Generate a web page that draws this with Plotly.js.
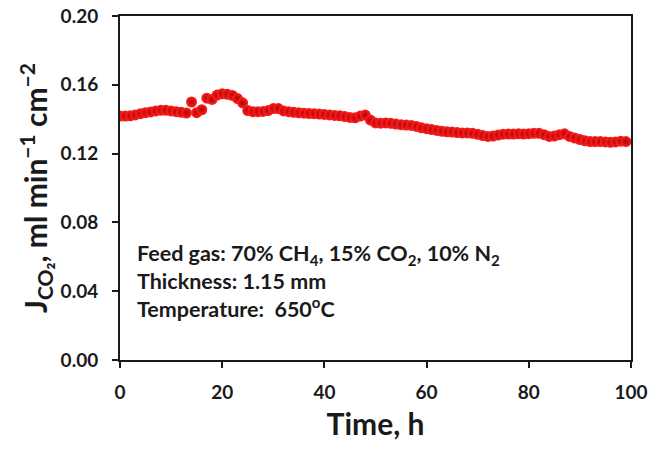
<!DOCTYPE html>
<html>
<head>
<meta charset="utf-8">
<script src="https://cdn.plot.ly/plotly-3.0.1.min.js"></script>
<style>html,body{margin:0;padding:0;background:#fff;}</style>
</head>
<body>
<div id="chart" style="width:653px;height:451px;"></div>
<script>
// Time on stream, h
const timeH = [0,1,2,3,4,5,6,7,8,9,10,11,12,13,14,15,16,17,18,19,20,21,22,23,24,25,26,27,28,29,30,31,32,33,34,35,36,37,38,39,40,41,42,43,44,45,46,47,48,49,50,51,52,53,54,55,56,57,58,59,60,61,62,63,64,65,66,67,68,69,70,71,72,73,74,75,76,77,78,79,80,81,82,83,84,85,86,87,88,89,90,91,92,93,94,95,96,97,98,99];
// CO2 flux, ml min^-1 cm^-2
const fluxCO2 = [0.1418,0.1418,0.1420,0.1425,0.1432,0.1438,0.1442,0.1448,0.1452,0.1452,
  0.1448,0.1444,0.1440,0.1436,0.1500,0.1438,0.1455,0.1522,0.1515,0.1540,
  0.1548,0.1545,0.1538,0.1520,0.1495,0.1450,0.1444,0.1444,0.1445,0.1450,
  0.1462,0.1462,0.1448,0.1444,0.1440,0.1437,0.1435,0.1433,0.1432,0.1430,
  0.1428,0.1425,0.1422,0.1420,0.1415,0.1410,0.1408,0.1418,0.1424,0.1395,
  0.1378,0.1377,0.1378,0.1376,0.1372,0.1368,0.1366,0.1364,0.1358,0.1350,
  0.1345,0.1340,0.1335,0.1330,0.1327,0.1325,0.1322,0.1320,0.1320,0.1318,
  0.1312,0.1305,0.1300,0.1302,0.1308,0.1313,0.1314,0.1314,0.1315,0.1314,
  0.1316,0.1318,0.1318,0.1310,0.1300,0.1302,0.1310,0.1315,0.1300,0.1290,
  0.1282,0.1274,0.1270,0.1270,0.1270,0.1268,0.1266,0.1268,0.1272,0.1270];
const xTicks = [0,20,40,60,80,100];
const yTicks = [0,0.04,0.08,0.12,0.16,0.20];
const infoLines = [
  "Feed gas: 70% CH<sub>4</sub>, 15% CO<sub>2</sub>, 10% N<sub>2</sub>",
  "Thickness: 1.15 mm",
  "Temperature:\u00a0 650<sup>o</sup>C"
];

const font = {family: "Lato, 'Open Sans', sans-serif", color: "#1a1a1a", weight: 700};

const trace = {
  x: timeH, y: fluxCO2, type: "scatter", mode: "markers",
  marker: {size: 11, color: "#ff2020", gradient: {type: "radial", color: "#b00000"}, line: {width: 0}},
  hoverinfo: "skip"
};

const axisCommon = {
  showline: true, mirror: true, linecolor: "#1a1a1a", linewidth: 2,
  ticks: "outside", ticklen: 6, tickwidth: 2, tickcolor: "#1a1a1a",
  showgrid: false, zeroline: false, tickmode: "array",
  tickfont: Object.assign({}, font, {size: 19})
};

const layout = {
  width: 653, height: 451,
  margin: {l: 120, r: 22, t: 16, b: 91},
  paper_bgcolor: "#fff", plot_bgcolor: "#fff",
  showlegend: false,
  font: font,
  xaxis: Object.assign({}, axisCommon, {
    range: [0, 100], tickvals: xTicks, ticktext: xTicks.map(String),
    ticklabelstandoff: 8,
    title: {text: "Time, h", font: Object.assign({}, font, {size: 30}), standoff: 12}
  }),
  yaxis: Object.assign({}, axisCommon, {
    range: [0, 0.2], tickvals: yTicks, ticktext: yTicks.map(v => v.toFixed(2)),
    ticklabelstandoff: 10,
    title: {text: "J<sub>CO₂</sub>, ml min<sup>−1</sup> cm<sup>−2</sup>", font: Object.assign({}, font, {size: 30}), standoff: 4}
  }),
  annotations: [{
    xref: "paper", yref: "paper", x: 0.03, y: 0.355, xanchor: "left", yanchor: "top",
    align: "left", showarrow: false,
    text: infoLines.join("<br>"),
    font: Object.assign({}, font, {size: 21.5})
  }]
};

Plotly.newPlot("chart", [trace], layout, {displayModeBar: false, staticPlot: true});
</script>
</body>
</html>
